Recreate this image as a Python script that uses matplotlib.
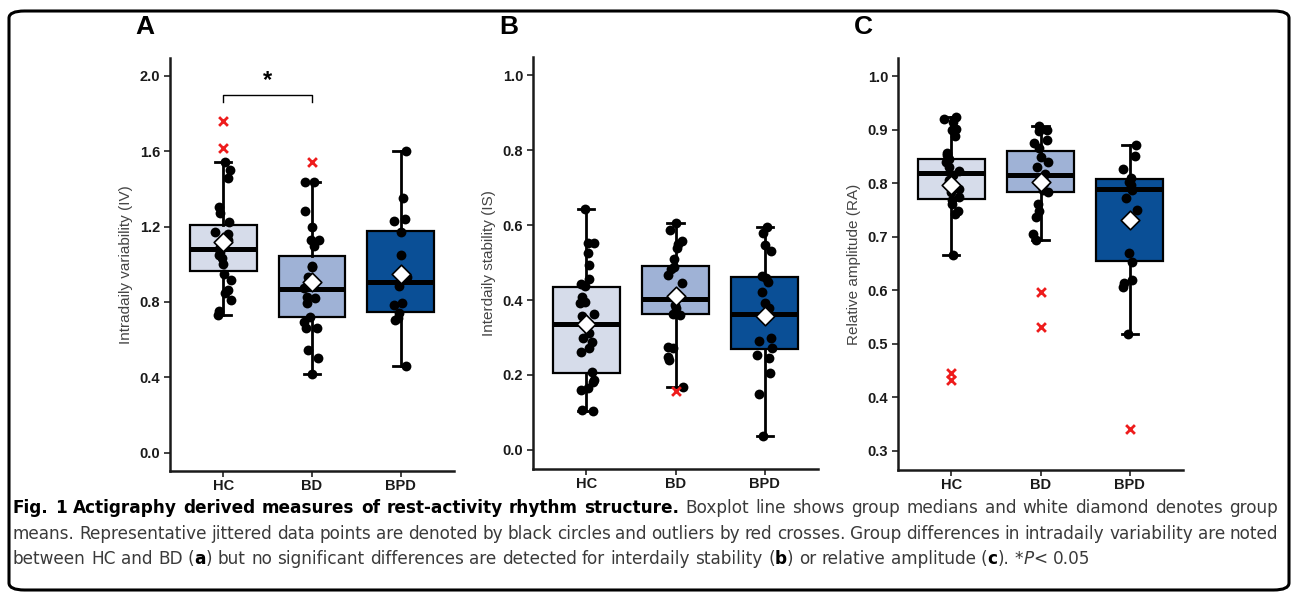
import numpy as np
import matplotlib
matplotlib.use('Agg')
import matplotlib.pyplot as plt
from matplotlib.patches import FancyBboxPatch

groups = ['HC', 'BD', 'BPD']
box_colors = ['#d6dcea', '#9fb2d6', '#0a4f96']

# panel A - intradaily variability
iv_stats = {  # q1, median, q3, whisker low, whisker high, mean
    'HC': (0.964, 1.082, 1.208, 0.732, 1.54, 1.116),
    'BD': (0.718, 0.870, 1.043, 0.417, 1.436, 0.907),
    'BPD': (0.745, 0.904, 1.176, 0.460, 1.600, 0.946),
}
iv_points = {
    'HC': [1.54, 1.50, 1.46, 1.305, 1.27, 1.225, 1.17, 1.16, 1.13, 1.11, 1.09, 1.065,
           1.05, 1.035, 1.00, 0.95, 0.915, 0.865, 0.845, 0.81, 0.75, 0.73],
    'BD': [1.436, 1.436, 1.284, 1.20, 1.128, 1.128, 1.096, 0.99, 0.987, 0.934, 0.872,
           0.824, 0.82, 0.796, 0.72, 0.695, 0.66, 0.66, 0.545, 0.50, 0.417],
    'BPD': [1.60, 1.35, 1.238, 1.23, 1.17, 1.05, 0.934, 0.884, 0.796, 0.783, 0.743,
            0.713, 0.704, 0.46],
}
iv_outliers = {'HC': [1.76, 1.615], 'BD': [1.542], 'BPD': []}

# panel B - interdaily stability
is_stats = {
    'HC': (0.204, 0.335, 0.436, 0.104, 0.643, 0.336),
    'BD': (0.362, 0.403, 0.492, 0.167, 0.607, 0.410),
    'BPD': (0.269, 0.362, 0.462, 0.037, 0.596, 0.357),
}
is_points = {
    'HC': [0.643, 0.553, 0.553, 0.527, 0.493, 0.455, 0.444, 0.437, 0.407, 0.396, 0.391,
           0.363, 0.357, 0.311, 0.298, 0.289, 0.271, 0.262, 0.209, 0.187, 0.18, 0.166,
           0.16, 0.107, 0.104],
    'BD': [0.607, 0.587, 0.557, 0.551, 0.538, 0.511, 0.489, 0.484, 0.468, 0.446, 0.387,
           0.38, 0.364, 0.36, 0.274, 0.271, 0.247, 0.24, 0.167],
    'BPD': [0.596, 0.578, 0.546, 0.532, 0.465, 0.46, 0.449, 0.422, 0.391, 0.378, 0.298,
            0.292, 0.271, 0.253, 0.246, 0.204, 0.149, 0.037],
}
is_outliers = {'HC': [], 'BD': [0.158], 'BPD': []}

# panel C - relative amplitude
ra_stats = {
    'HC': (0.770, 0.819, 0.845, 0.666, 0.923, 0.796),
    'BD': (0.784, 0.815, 0.860, 0.694, 0.907, 0.803),
    'BPD': (0.655, 0.789, 0.807, 0.519, 0.872, 0.732),
}
ra_points = {
    'HC': [0.923, 0.92, 0.915, 0.902, 0.90, 0.888, 0.857, 0.852, 0.846, 0.84, 0.83,
           0.823, 0.815, 0.806, 0.796, 0.79, 0.784, 0.775, 0.768, 0.762, 0.748, 0.743,
           0.666],
    'BD': [0.907, 0.90, 0.898, 0.88, 0.875, 0.866, 0.849, 0.84, 0.83, 0.818, 0.809,
           0.80, 0.787, 0.784, 0.762, 0.748, 0.736, 0.706, 0.694],
    'BPD': [0.872, 0.85, 0.826, 0.809, 0.803, 0.796, 0.787, 0.773, 0.75, 0.67, 0.653,
            0.619, 0.613, 0.606, 0.519],
}
ra_outliers = {'HC': [0.446, 0.432], 'BD': [0.597, 0.532], 'BPD': [0.34]}

W, H = 1292, 592
plt.rcParams['font.family'] = ['Liberation Sans', 'DejaVu Sans']
fig = plt.figure(figsize=(W / 100, H / 100), dpi=100)

rng = np.random.default_rng(7)


def px_axes(left, right, top, bottom):
    return fig.add_axes([left / W, 1 - bottom / H, (right - left) / W, (bottom - top) / H])


def panel(ax, stats, points, outliers, ylabel, ylim, yticks):
    bstats = []
    for g in groups:
        q1, med, q3, lo, hi, mean = stats[g]
        bstats.append(dict(med=med, q1=q1, q3=q3, whislo=lo, whishi=hi, fliers=[], label=g))
    pos = np.arange(1, 4)
    bp = ax.bxp(bstats, positions=pos, widths=0.75, capwidths=0.18, patch_artist=True,
                showfliers=False,
                boxprops=dict(edgecolor='black', linewidth=1.6),
                whiskerprops=dict(color='black', linewidth=2.0),
                capprops=dict(color='black', linewidth=2.0),
                medianprops=dict(color='black', linewidth=3.6, solid_capstyle='butt'))
    for patch, c in zip(bp['boxes'], box_colors):
        patch.set_facecolor(c)
    for i, g in enumerate(groups):
        vals = np.array(points[g])
        jit = rng.uniform(-0.09, 0.09, len(vals))
        ax.scatter(pos[i] + jit, vals, s=50, color='black', zorder=3, linewidths=0)
        if outliers[g]:
            ax.scatter([pos[i]] * len(outliers[g]), outliers[g], marker='x', s=40,
                       color='#ee1c1c', linewidths=2.0, zorder=3)
        ax.scatter([pos[i]], [stats[g][5]], marker='D', s=90, color='white',
                   edgecolors='black', linewidths=1.2, zorder=4)
    ax.set_xlim(0.4, 3.6)
    ax.set_ylim(*ylim)
    ax.set_yticks(yticks)
    ax.set_yticklabels([f'{t:.1f}' for t in yticks])
    ax.set_xticks(pos)
    ax.set_xticklabels(groups)
    for lab in ax.get_xticklabels() + ax.get_yticklabels():
        lab.set_fontweight('bold')
        lab.set_fontsize(10.5)
        lab.set_color('#1a1a1a')
    ax.tick_params(length=4, width=1.3, color='#333333', pad=3)
    ax.tick_params(axis='x', pad=2)
    ax.spines['top'].set_visible(False)
    ax.spines['right'].set_visible(False)
    for s in ('left', 'bottom'):
        ax.spines[s].set_linewidth(1.8)
        ax.spines[s].set_color('#1a1a1a')
    ax.set_ylabel(ylabel, fontsize=11, color='#444444', labelpad=5)


axA = px_axes(170, 454, 58, 471)
panel(axA, iv_stats, iv_points, iv_outliers, 'Intradaily variability (IV)',
      (-0.097, 2.094), [0.0, 0.4, 0.8, 1.2, 1.6, 2.0])
axA.plot([1, 1, 2, 2], [1.862, 1.897, 1.897, 1.862], color='black', linewidth=1)
axA.text(1.5, 1.915, '*', ha='center', va='bottom', fontsize=17, fontweight='bold')

axB = px_axes(533, 818, 57, 469)
panel(axB, is_stats, is_points, is_outliers, 'Interdaily stability (IS)',
      (-0.051, 1.049), [0.0, 0.2, 0.4, 0.6, 0.8, 1.0])

axC = px_axes(898, 1183, 58, 470)
panel(axC, ra_stats, ra_points, ra_outliers, 'Relative amplitude (RA)',
      (0.264, 1.034), [0.3, 0.4, 0.5, 0.6, 0.7, 0.8, 0.9, 1.0])

for letter, x in [('A', 135), ('B', 499), ('C', 854)]:
    fig.text(x / W, 1 - 27 / H, letter, fontsize=19, fontweight='bold', ha='left',
             va='center')

# rounded frame
fig.patches.append(FancyBboxPatch((9 / W, 2 / H), 1280 / W, 579 / H,
                                  boxstyle='round,pad=0,rounding_size=0.012',
                                  transform=fig.transFigure, fill=False,
                                  edgecolor='black', linewidth=2.2))

# caption
cap_font = 'DejaVu Sans'
reg = dict(family=cap_font, fontsize=12.2, color='#3a3a3a')
bold = dict(family=cap_font, fontsize=12.2, color='black', fontweight='bold')
ital = dict(family=cap_font, fontsize=12.2, color='#3a3a3a', style='italic')

renderer = fig.canvas.get_renderer()


def text_w(s, props):
    t = fig.text(0, 0, s, **props)
    w = t.get_window_extent(renderer).width
    t.remove()
    return w


def caption_line(y, parts, x0=13, x1=1278, justify=True):
    words = []
    glue = False
    for text, props in parts:
        for k, p in enumerate(text.split(' ')):
            if k > 0:
                glue = False
            if p == '':
                continue
            if glue and words:
                words[-1].append((p, props))
            else:
                words.append([(p, props)])
            glue = True
    widths = [[text_w(p, pr) for p, pr in w] for w in words]
    total = sum(sum(w) for w in widths)
    space = text_w('a a', reg) - text_w('aa', reg)
    gap = (x1 - x0 - total) / (len(words) - 1) if justify else space
    x = x0
    for w, ws in zip(words, widths):
        for (p, pr), pw in zip(w, ws):
            fig.text(x / W, 1 - y / H, p, ha='left', va='baseline', **pr)
            x += pw
        x += gap


caption_line(513, [('Fig. 1 Actigraphy derived measures of rest-activity rhythm structure.', bold),
                   (' Boxplot line shows group medians and white diamond denotes group', reg)])
caption_line(539, [('means. Representative jittered data points are denoted by black circles and '
                    'outliers by red crosses. Group differences in intradaily variability are noted', reg)])
caption_line(564, [('between HC and BD (', reg), ('a', bold),
                   (') but no significant differences are detected for interdaily stability (', reg),
                   ('b', bold), (') or relative amplitude (', reg), ('c', bold), ('). *', reg),
                   ('P', ital), ('< 0.05', reg)], justify=False)

fig.savefig('out.png', dpi=100)
